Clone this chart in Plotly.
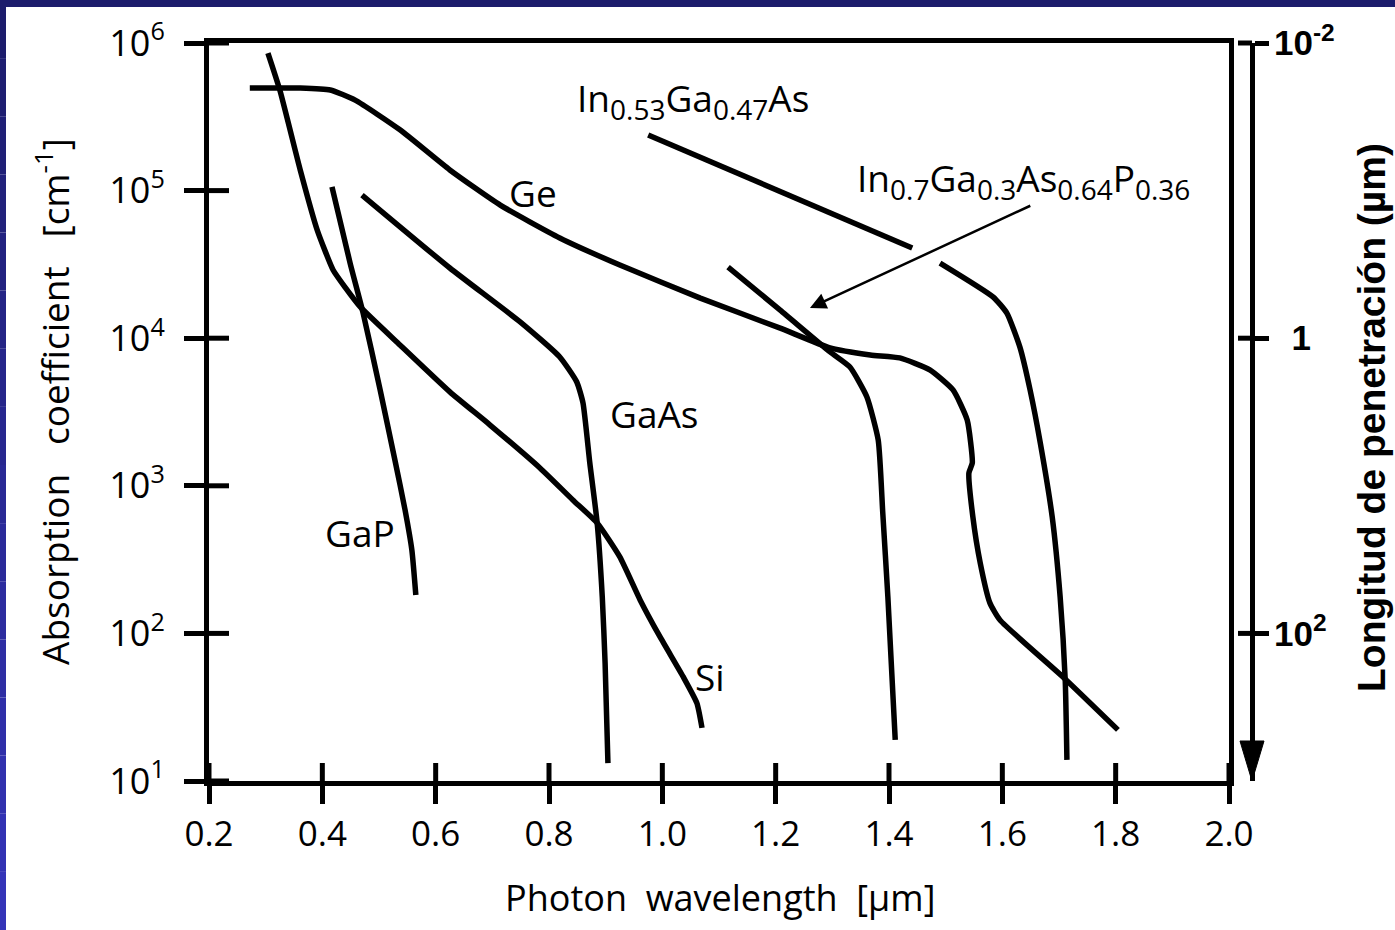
import math
import plotly.graph_objects as go

# ---------------- data ----------------
ge_x = [0.272, 0.361, 0.414, 0.458, 0.537, 0.625, 0.714, 0.819, 0.925, 1.067, 1.208, 1.296, 1.367,
        1.419, 1.472, 1.513, 1.538, 1.547, 1.541, 1.548, 1.561, 1.578, 1.596, 1.707, 1.804]
ge_y = [4.95e5, 4.95e5, 4.8e5, 4.1e5, 2.58e5, 1.38e5, 7.98e4, 4.78e4, 3.13e4, 1.87e4, 1.17e4, 8.6e3, 7.7e3,
        7.35e3, 6.1e3, 4.46e3, 2.79e3, 1.43e3, 1.22e3, 615, 300, 161, 123, 50.7, 22.2]

ingaasp_x = [1.116, 1.208, 1.296, 1.331, 1.361, 1.381, 1.389, 1.398, 1.411]
ingaasp_y = [3.03e4, 1.55e4, 8.07e3, 6.38e3, 4.0e3, 2.04e3, 655, 177, 19]

ingaas_x = [0.975, 1.441, None, 1.490, 1.584, 1.608, 1.631, 1.649, 1.667, 1.688, 1.702, 1.711, 1.714]
ingaas_y = [2.38e5, 4.08e4, None, 3.23e4, 1.9e4, 1.48e4, 8.7e3, 4.46e3, 1.95e3, 615, 177, 48, 13.9]

gaas_x = [0.470, 0.625, 0.749, 0.819, 0.849, 0.860, 0.872, 0.885, 0.894, 0.899, 0.904]
gaas_y = [9.33e4, 2.99e4, 1.29e4, 7.46e3, 5.05e3, 3.64e3, 1.43e3, 560, 177, 63, 13.2]

si_x = [0.304, 0.325, 0.361, 0.391, 0.419, 0.440, 0.467, 0.537, 0.625, 0.696, 0.784, 0.842, 0.885,
        0.925, 0.961, 0.996, 1.037, 1.061, 1.070]
si_y = [8.55e5, 4.8e5, 1.38e5, 5.4e4, 2.9e4, 2.22e4, 1.63e4, 9.0e3, 4.33e3, 2.58e3, 1.32e3, 802, 560,
        330, 168, 94.6, 50.7, 33.7, 22.9]

gap_x = [0.417, 0.449, 0.472, 0.502, 0.528, 0.546, 0.558, 0.565]
gap_y = [1.06e5, 3.23e4, 1.48e4, 4.46e3, 1.5e3, 686, 367, 182]

x_ticks = [0.2, 0.4, 0.6, 0.8, 1.0, 1.2, 1.4, 1.6, 1.8, 2.0]
x_ticktext = ["0.2", "0.4", "0.6", "0.8", "1.0", "1.2", "1.4", "1.6", "1.8", "2.0"]
y_exps = [1, 2, 3, 4, 5, 6]
y_ticks = [10 ** e for e in y_exps]
y_ticktext = ["10<sup>%d</sup>" % e for e in y_exps]
pen_ticks = [0.01, 1, 100]
pen_ticktext = ["10<sup>-2</sup>", "\u20021", "10<sup>2</sup>"]

SUB = "<sub><span style='font-size:28px'>%s</span></sub>"
# (label, x, log10(alpha))
curve_labels = [("Ge", 0.772, 4.99), ("GaAs", 0.987, 3.493), ("GaP", 0.4665, 2.687), ("Si", 1.084, 1.711),
                ("In" + SUB % "0.53" + "Ga" + SUB % "0.47" + "As", 1.054, 5.614),
                ("In" + SUB % "0.7" + "Ga" + SUB % "0.3" + "As" + SUB % "0.64" + "P" + SUB % "0.36", 1.638, 5.072)]
arrow_head = (1.2605, 4.205)
arrow_tail = (1.652, 4.902)

# ---------------- geometry ----------------
W, H = 1395, 930
L, R, T, B = 209, 135, 43, 149
PW = W - L - R
PH = H - T - B
x_dom_end = 1020 / PW
right_axis_pos = (1252 - L) / PW

FONT = "Open Sans"
LW = 5.5

fig = go.Figure()
series = [(ge_x, ge_y), (ingaasp_x, ingaasp_y), (ingaas_x, ingaas_y), (gaas_x, gaas_y), (si_x, si_y), (gap_x, gap_y)]
for xs, ys in series:
    fig.add_trace(go.Scatter(x=xs, y=ys, mode="lines", line=dict(color="black", width=LW, shape="spline", smoothing=0.5),
                             showlegend=False, hoverinfo="skip", connectgaps=False))
# empty trace so that the penetration-length axis is drawn
fig.add_trace(go.Scatter(x=[None], y=[None], yaxis="y2", mode="lines", showlegend=False, hoverinfo="skip"))

shapes = []
for v in x_ticks:
    shapes.append(dict(type="line", xref="x", yref="y domain", x0=v, x1=v, y0=0, y1=18 / PH,
                       line=dict(color="black", width=5)))
for e in y_exps:
    yd = (e - 1) / 5
    shapes.append(dict(type="line", xref="x domain", yref="y domain", x0=0, x1=20 / 1020, y0=yd, y1=yd,
                       line=dict(color="black", width=5)))
for p in pen_ticks:
    yd = (3 - math.log10(p)) / 5
    shapes.append(dict(type="line", xref="paper", yref="y domain", x0=right_axis_pos - 14 / PW, x1=right_axis_pos,
                       y0=yd, y1=yd, line=dict(color="black", width=5)))
hw = 12 / PW
shapes.append(dict(type="path", xref="paper", yref="paper",
                   path="M %f,%f L %f,%f L %f,%f Z" % (right_axis_pos - hw, 40 / PH, right_axis_pos + hw, 40 / PH,
                                                       right_axis_pos, 0.0),
                   fillcolor="black", line=dict(color="black", width=1)))


def px_x(px):
    return (px - L) / PW


def px_y(py):
    return (H - B - py) / PH


shapes.append(dict(type="rect", xref="paper", yref="paper", x0=px_x(0), x1=px_x(W), y0=px_y(7), y1=px_y(0),
                   fillcolor="#1c1c6c", line=dict(width=0), layer="above"))
nseg = 16
c0 = (28, 28, 108)
c1 = (52, 52, 184)
for i in range(nseg):
    t = i / (nseg - 1)
    col = "rgb(%d,%d,%d)" % tuple(round(a + (b - a) * t) for a, b in zip(c0, c1))
    shapes.append(dict(type="rect", xref="paper", yref="paper", x0=px_x(0), x1=px_x(6),
                       y0=px_y(H * (i + 1) / nseg), y1=px_y(H * i / nseg),
                       fillcolor=col, line=dict(width=0), layer="above"))

annotations = []
for text, x, ly in curve_labels:
    annotations.append(dict(text=text, x=x, y=ly, xref="x", yref="y", showarrow=False,
                            xanchor="center", yanchor="middle",
                            font=dict(family=FONT, size=37, color="black")))
annotations.append(dict(x=arrow_head[0], y=arrow_head[1], ax=arrow_tail[0], ay=arrow_tail[1],
                        xref="x", yref="y", axref="x", ayref="y", showarrow=True, text="",
                        arrowhead=2, arrowsize=1.3, arrowwidth=2.5, arrowcolor="black", standoff=0))
sp3 = "\u00a0\u00a0\u00a0"
annotations.append(dict(text="Absorption" + sp3 + "coefficient" + sp3 + "[cm<sup>-1</sup>]", textangle=-90,
                        xref="paper", yref="paper", x=px_x(52), y=px_y(402), showarrow=False,
                        xanchor="center", yanchor="middle",
                        font=dict(family=FONT, size=37, color="black")))
annotations.append(dict(text="Photon\u00a0\u00a0wavelength\u00a0\u00a0[\u00b5m]", xref="paper", yref="paper",
                        x=px_x(720), y=px_y(897), showarrow=False, xanchor="center", yanchor="middle",
                        font=dict(family=FONT, size=36, color="black")))
annotations.append(dict(text="<b>Longitud de penetración (\u00b5m)</b>", textangle=-90,
                        xref="paper", yref="paper", x=px_x(1372), y=px_y(418), showarrow=False,
                        xanchor="center", yanchor="middle",
                        font=dict(family="Liberation Sans, Arial", size=39, color="black")))

fig.update_layout(
    width=W, height=H, autosize=False,
    margin=dict(l=L, r=R, t=T, b=B, pad=0),
    paper_bgcolor="white", plot_bgcolor="white",
    xaxis=dict(domain=[0, x_dom_end], range=[0.2, 2.0], showgrid=False, zeroline=False,
               showline=True, linewidth=5, linecolor="black", mirror=True,
               ticks="outside", ticklen=18, tickwidth=5, tickcolor="black",
               tickvals=x_ticks, ticktext=x_ticktext, ticklabelstandoff=0,
               tickfont=dict(family=FONT, size=35, color="black")),
    yaxis=dict(type="log", range=[1, 6], showgrid=False, zeroline=False,
               showline=True, linewidth=5, linecolor="black", mirror=True,
               ticks="outside", ticklen=20, tickwidth=5, tickcolor="black",
               tickvals=y_ticks, ticktext=y_ticktext, ticklabelstandoff=12,
               tickfont=dict(family=FONT, size=36, color="black")),
    yaxis2=dict(type="log", range=[3, -2], overlaying="y", anchor="free", position=right_axis_pos, side="right",
                showgrid=False, zeroline=False, showline=True, linewidth=5, linecolor="black",
                ticks="outside", ticklen=14, tickwidth=5, tickcolor="black",
                tickvals=pen_ticks, ticktext=pen_ticktext, ticklabelstandoff=-2,
                tickfont=dict(family="Liberation Sans, Arial", size=35, color="black", weight="bold")),
    shapes=shapes, annotations=annotations,
)

fig.write_html("out.html")
